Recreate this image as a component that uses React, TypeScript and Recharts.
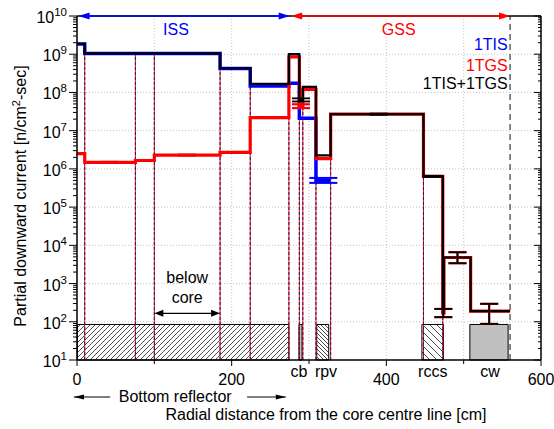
import React from 'react';
import {
  ComposedChart,
  Line,
  Scatter,
  ErrorBar,
  XAxis,
  YAxis,
  CartesianGrid,
  ReferenceArea,
  ReferenceLine,
  ReferenceDot,
  Label,
} from 'recharts';

const FONT = '"Liberation Sans", Arial, Helvetica, sans-serif';
const BLUE = '#0000ff';
const RED = '#ff0000';
const BLACK = '#000000';

// Radial bin edges [cm]
const binEdges = [0, 10, 75.5, 100, 185, 224, 274, 287.5, 292, 309, 328, 448, 473, 474.5, 509, 560];
// Partial downward current per bin [n/cm2-sec], 1TIS+1TGS
const totalCurrent = [1.88e9, 1.05e9, 1.05e9, 1.05e9, 4.3e8, 1.68e8, 1.0e9, 6.4e7, 1.4e8, 2.25e6, 2.7e7, 6.4e5, 1.7e2, 4.8e3, 1.9e2];
// 1TGS
const tgsCurrent = [2.5e6, 1.48e6, 1.66e6, 2.3e6, 2.7e6, 2.2e7, 8.5e8, 4.4e7, 1.2e8, 1.85e6, 2.7e7, 6.4e5, 1.7e2, 4.8e3, 1.9e2];
// 1TIS reaches only to the outer edge of the pressure vessel
const tisEdges = [0, 10, 75.5, 100, 185, 224, 274, 287.5, 292, 309, 328];
const tisCurrent = [1.86e9, 1.04e9, 1.04e9, 1.04e9, 4.25e8, 1.48e8, 1.74e8, 2.1e7, 2.1e7, 5.0e5];

// Statistical uncertainty bars
const totalErrX = [289.7, 390, 460, 473.7, 492, 533];
const totalErrY = [6.4e7, 2.7e7, 6.4e5, 1.7e2, 4.8e3, 1.9e2];
const totalErrLow = [5.8e7, 2.6e7, 6.2e5, 1.32e2, 3.4e3, 88];
const totalErrHigh = [7.0e7, 2.8e7, 6.6e5, 2.17e2, 6.6e3, 295];
const tgsErrX = [42, 142, 205, 249, 289.7, 473.7, 492, 533];
const tgsErrY = [1.48e6, 2.3e6, 2.7e6, 2.2e7, 4.4e7, 1.7e2, 4.8e3, 1.9e2];
const tgsErrLow = [1.44e6, 2.25e6, 2.64e6, 2.15e7, 3.9e7, 1.32e2, 3.4e3, 88];
const tgsErrHigh = [1.52e6, 2.35e6, 2.76e6, 2.25e7, 4.9e7, 2.17e2, 6.6e3, 295];
const tisErrX = [318.5];
const tisErrY = [5.0e5];
const tisErrLow = [4.3e5];
const tisErrHigh = [5.8e5];

// Material boundaries drawn as dashed lines from the floor up to the curve
const dashedEdges = [10, 75.5, 100, 185, 224, 274, 287.5, 292, 309, 328, 448, 473];

// Structures along the floor
const regionStart = [0.5, 287, 310, 446, 508];
const regionEnd = [274, 291, 325.5, 473.8, 557.5];
const regionFill = ['url(#hatch-reflector)', '#c0c0c0', 'url(#hatch-rpv)', 'url(#hatch-rccs)', '#c0c0c0'];
const regionTop = 85;
const regionLabels = ['cb', 'rpv', 'rccs', 'cw'];
const regionLabelX = [287, 322, 460, 534];

// Shielding spans along the top
const spanNames = ['ISS', 'GSS'];
const spanColors = [BLUE, RED];
const spanFrom = [2, 277];
const spanTo = [275, 560];
const spanLabelX = [128, 416];

const legendNames = ['1TIS', '1TGS', '1TIS+1TGS'];
const legendColors = [BLUE, RED, BLACK];
const legendX = 557;

const belowCoreFrom = 100;
const belowCoreTo = 185;
const belowCoreLevel = 166;
const reflectorArrowLeft = [-4, 43];
const reflectorArrowRight = [220, 270];
const reflectorLabelX = 127;

const xTicks = [0, 100, 200, 300, 400, 500, 600];
const xTopTicks = [0, 50, 100, 150, 200, 250, 300, 350, 400, 450, 500, 550, 600];
const gridX = [100, 200, 300, 400, 500];
const gridY = [1e2, 1e3, 1e4, 1e5, 1e6, 1e7, 1e8, 1e9];
const yTicks: number[] = [];
for (let e = 1; e <= 10; e++) {
  yTicks.push(10 ** e);
  if (e < 10) for (let m = 2; m <= 9; m++) yTicks.push(m * 10 ** e);
}

const toSteps = (edges: number[], values: number[]) =>
  edges.map((x, i) => ({ x, y: values[Math.min(i, values.length - 1)] }));

const toErr = (xs: number[], ys: number[], lo: number[], hi: number[]) =>
  xs.map((x, i) => ({ x, y: ys[i], err: [ys[i] - lo[i], hi[i] - ys[i]] }));

const totalSteps = toSteps(binEdges, totalCurrent);
const tgsSteps = toSteps(binEdges, tgsCurrent);
const tisSteps = toSteps(tisEdges, tisCurrent);

const boundaryTop = (x: number) => {
  const i = binEdges.indexOf(x);
  return Math.min(totalCurrent[i - 1], totalCurrent[i]);
};

const isDecade = (v: number) => Math.abs(Math.log10(v) - Math.round(Math.log10(v))) < 1e-6;

const LeftTick = (p: any) => {
  const { x, y, payload } = p;
  const v = payload.value;
  const major = isDecade(v);
  return (
    <g>
      <line x1={x} x2={x - (major ? 8 : 4)} y1={y} y2={y} stroke={BLACK} strokeWidth={1} />
      {major && (
        <text x={x - 10} y={y + 7} textAnchor="end" fontSize={16} fontFamily={FONT} fill={BLACK}>
          10
          <tspan fontSize={11.5} dy={-7}>
            {Math.round(Math.log10(v))}
          </tspan>
        </text>
      )}
    </g>
  );
};

const RightTick = (p: any) => {
  const { x, y, payload } = p;
  const major = isDecade(payload.value);
  return <line x1={x} x2={x - (major ? 7 : 3)} y1={y} y2={y} stroke={BLACK} strokeWidth={1} />;
};

const BottomTick = (p: any) => {
  const { x, y, payload } = p;
  const v = payload.value;
  const major = v % 200 === 0;
  return (
    <g>
      <line x1={x} x2={x} y1={y} y2={y + (major ? 6 : 4)} stroke={BLACK} strokeWidth={1} />
      {major && (
        <text x={x} y={y + 25} textAnchor="middle" fontSize={16} fontFamily={FONT} fill={BLACK}>
          {v}
        </text>
      )}
    </g>
  );
};

const TopTick = (p: any) => {
  const { x, y, payload } = p;
  const len = payload.value % 100 === 0 ? 6 : 3;
  return <line x1={x} x2={x} y1={y} y2={y + len} stroke={BLACK} strokeWidth={1} />;
};

const arrowHead = (x: number, y: number, dir: number, len: number, half: number, color: string) => (
  <path d={`M${x},${y} L${x - dir * len},${y - half} L${x - dir * len},${y + half} Z`} fill={color} />
);

const spanArrow = (color: string) => (p: any) => {
  const { x1, y1, x2 } = p;
  return (
    <g>
      <line x1={x1 + 6} x2={x2 - 6} y1={y1} y2={y1} stroke={color} strokeWidth={1.6} />
      {arrowHead(x1, y1, -1, 11, 3.5, color)}
      {arrowHead(x2, y1, 1, 11, 3.5, color)}
    </g>
  );
};

const doubleArrow = (p: any) => {
  const { x1, y1, x2 } = p;
  return (
    <g>
      <line x1={x1 + 5} x2={x2 - 5} y1={y1} y2={y1} stroke={BLACK} strokeWidth={1.2} />
      {arrowHead(x1, y1, -1, 9, 3.5, BLACK)}
      {arrowHead(x2, y1, 1, 9, 3.5, BLACK)}
    </g>
  );
};

const floorArrow = (dir: number, dy: number) => (p: any) => {
  const { x1, y1, x2 } = p;
  const tip = dir < 0 ? x1 : x2;
  return (
    <g>
      <line x1={x1} x2={x2} y1={y1 + dy} y2={y1 + dy} stroke={BLACK} strokeWidth={1} />
      {arrowHead(tip, y1 + dy, dir, 10, 2.5, BLACK)}
    </g>
  );
};

const boundaryLine = (p: any) => {
  const { x1, y1, x2, y2 } = p;
  return (
    <g>
      <line x1={x1} x2={x2} y1={y1} y2={y2} stroke={RED} strokeWidth={1} />
      <line x1={x1} x2={x2} y1={y1} y2={y2} stroke="#1c1c6a" strokeWidth={1} strokeDasharray="3 2" />
    </g>
  );
};

const textAt =
  (text: string, color: string, dy: number, anchor: 'start' | 'middle' | 'end' = 'middle', size = 16) =>
  (p: any) =>
    (
      <text x={p.cx} y={p.cy + dy} textAnchor={anchor} fontSize={size} fontFamily={FONT} fill={color}>
        {text}
      </text>
    );

const xTitle = (p: any) => {
  const vb = p.viewBox;
  return (
    <text x={vb.x + vb.width / 2 + 17} y={vb.y + 60} textAnchor="middle" fontSize={16} fontFamily={FONT} fill={BLACK}>
      Radial distance from the core centre line [cm]
    </text>
  );
};

const yTitle = (p: any) => {
  const vb = p.viewBox;
  const cx = vb.x + 8.5;
  const cy = vb.y + vb.height / 2 + 8;
  return (
    <text
      x={cx}
      y={cy}
      textAnchor="middle"
      fontSize={16}
      fontFamily={FONT}
      fill={BLACK}
      transform={`rotate(-90, ${cx}, ${cy})`}
    >
      Partial downward current [n/cm
      <tspan fontSize={11} dy={-6}>
        2
      </tspan>
      <tspan dy={6}>-sec]</tspan>
    </text>
  );
};

const noMarker = () => <g />;

export default function App() {
  return (
    <div style={{ position: 'absolute', left: 0, top: 0, width: 554, height: 429, background: '#fff' }}>
      <svg width={0} height={0} style={{ position: 'absolute' }}>
        <defs>
          <pattern id="hatch-reflector" patternUnits="userSpaceOnUse" width={5} height={5}>
            <rect width={5} height={5} fill="#fff" />
            <path d="M-1,1 L1,-1 M0,5 L5,0 M4,6 L6,4" stroke={BLACK} strokeWidth={0.7} />
          </pattern>
          <pattern id="hatch-rpv" patternUnits="userSpaceOnUse" width={4} height={4}>
            <rect width={4} height={4} fill="#fff" />
            <path d="M-1,3 L1,5 M0,0 L4,4 M3,-1 L5,1" stroke={BLACK} strokeWidth={0.7} />
          </pattern>
          <pattern id="hatch-rccs" patternUnits="userSpaceOnUse" width={7} height={7}>
            <rect width={7} height={7} fill="#fff" />
            <path d="M-1,6 L1,8 M0,0 L7,7 M6,-1 L8,1" stroke={BLACK} strokeWidth={0.7} />
          </pattern>
        </defs>
      </svg>
      <ComposedChart width={554} height={429} margin={{ top: 15, right: 0, bottom: 39, left: 17 }}>
        <CartesianGrid
          horizontalValues={gridY}
          verticalValues={gridX}
          stroke="#c4c4c4"
          strokeDasharray="1 2"
        />

        {regionStart.map((x1, i) => (
          <ReferenceArea
            key={`region-${i}`}
            x1={x1}
            x2={regionEnd[i]}
            y1={10}
            y2={regionTop}
            fill={regionFill[i]}
            fillOpacity={1}
            stroke={BLACK}
            strokeWidth={1}
            ifOverflow="visible"
          />
        ))}

        {dashedEdges.map((x) => (
          <ReferenceLine
            key={`edge-${x}`}
            segment={[
              { x, y: 10 },
              { x, y: boundaryTop(x) },
            ]}
            shape={boundaryLine}
            ifOverflow="visible"
          />
        ))}

        <ReferenceLine x={560} stroke="#3a3a3a" strokeWidth={1.2} strokeDasharray="6 4" />

        <Line data={tisSteps} dataKey="y" type="stepAfter" stroke={BLUE} strokeWidth={3.5} dot={false} isAnimationActive={false} />
        <Line data={tgsSteps} dataKey="y" type="stepAfter" stroke={RED} strokeWidth={3.2} dot={false} isAnimationActive={false} />
        <Line data={totalSteps} dataKey="y" type="stepAfter" stroke={BLACK} strokeWidth={2.2} dot={false} isAnimationActive={false} />

        <Scatter data={toErr(tisErrX, tisErrY, tisErrLow, tisErrHigh)} dataKey="y" shape={noMarker} isAnimationActive={false}>
          <ErrorBar dataKey="err" direction="y" width={14} stroke={BLUE} strokeWidth={2} />
        </Scatter>
        <Scatter data={toErr(tgsErrX, tgsErrY, tgsErrLow, tgsErrHigh)} dataKey="y" shape={noMarker} isAnimationActive={false}>
          <ErrorBar dataKey="err" direction="y" width={9} stroke={RED} strokeWidth={2.2} />
        </Scatter>
        <Scatter data={toErr(totalErrX, totalErrY, totalErrLow, totalErrHigh)} dataKey="y" shape={noMarker} isAnimationActive={false}>
          <ErrorBar dataKey="err" direction="y" width={9} stroke={BLACK} strokeWidth={1.8} />
        </Scatter>

        {/* top frame edge, kept underneath the span arrows */}
        <ReferenceLine y={1e10} stroke={BLACK} strokeWidth={1.5} ifOverflow="visible" />
        {spanNames.map((name, i) => (
          <ReferenceLine
            key={`span-${name}`}
            segment={[
              { x: spanFrom[i], y: 1e10 },
              { x: spanTo[i], y: 1e10 },
            ]}
            shape={spanArrow(spanColors[i])}
            ifOverflow="visible"
          />
        ))}
        {spanNames.map((name, i) => (
          <ReferenceDot key={`span-label-${name}`} x={spanLabelX[i]} y={1e10} shape={textAt(name, spanColors[i], 19)} ifOverflow="visible" />
        ))}

        {legendNames.map((name, i) => (
          <ReferenceDot
            key={`legend-${name}`}
            x={legendX}
            y={1e10}
            shape={textAt(name, legendColors[i], 34 + i * 21 - (i === 2 ? 3 : 0), 'end')}
            ifOverflow="visible"
          />
        ))}

        <ReferenceLine
          segment={[
            { x: belowCoreFrom, y: belowCoreLevel },
            { x: belowCoreTo, y: belowCoreLevel },
          ]}
          shape={doubleArrow}
          ifOverflow="visible"
        />
        <ReferenceDot x={(belowCoreFrom + belowCoreTo) / 2} y={belowCoreLevel} shape={textAt('below', BLACK, -30)} ifOverflow="visible" />
        <ReferenceDot x={(belowCoreFrom + belowCoreTo) / 2} y={belowCoreLevel} shape={textAt('core', BLACK, -10)} ifOverflow="visible" />

        <ReferenceLine
          segment={[
            { x: reflectorArrowLeft[0], y: 10 },
            { x: reflectorArrowLeft[1], y: 10 },
          ]}
          shape={floorArrow(-1, 37)}
          ifOverflow="visible"
        />
        <ReferenceLine
          segment={[
            { x: reflectorArrowRight[0], y: 10 },
            { x: reflectorArrowRight[1], y: 10 },
          ]}
          shape={floorArrow(1, 37)}
          ifOverflow="visible"
        />
        <ReferenceDot x={reflectorLabelX} y={10} shape={textAt('Bottom reflector', BLACK, 42)} ifOverflow="visible" />

        {regionLabels.map((name, i) => (
          <ReferenceDot key={`label-${name}`} x={regionLabelX[i]} y={10} shape={textAt(name, BLACK, 17)} ifOverflow="visible" />
        ))}

        <XAxis
          dataKey="x"
          type="number"
          domain={[0, 600]}
          ticks={xTicks}
          interval={0}
          allowDataOverflow
          height={30}
          tickSize={0}
          tickMargin={0}
          tickLine={false}
          tick={BottomTick}
          axisLine={{ stroke: BLACK, strokeWidth: 1.5 }}
        >
          <Label content={xTitle} />
        </XAxis>
        <XAxis
          xAxisId="top"
          orientation="top"
          type="number"
          domain={[0, 600]}
          ticks={xTopTicks}
          interval={0}
          allowDataOverflow
          height={1}
          tickSize={0}
          tickMargin={0}
          tickLine={false}
          tick={TopTick}
          axisLine={false}
        />
        <YAxis
          type="number"
          scale="log"
          domain={[10, 1e10]}
          ticks={yTicks}
          interval={0}
          allowDataOverflow
          width={60}
          tickSize={0}
          tickMargin={0}
          tickLine={false}
          tick={LeftTick}
          axisLine={{ stroke: BLACK, strokeWidth: 1.5 }}
        >
          <Label content={yTitle} />
        </YAxis>
        <YAxis
          yAxisId="right"
          orientation="right"
          type="number"
          scale="log"
          domain={[10, 1e10]}
          ticks={yTicks}
          interval={0}
          allowDataOverflow
          width={13}
          tickSize={0}
          tickMargin={0}
          tickLine={false}
          tick={RightTick}
          axisLine={{ stroke: BLACK, strokeWidth: 1.5 }}
        />
      </ComposedChart>
    </div>
  );
}
